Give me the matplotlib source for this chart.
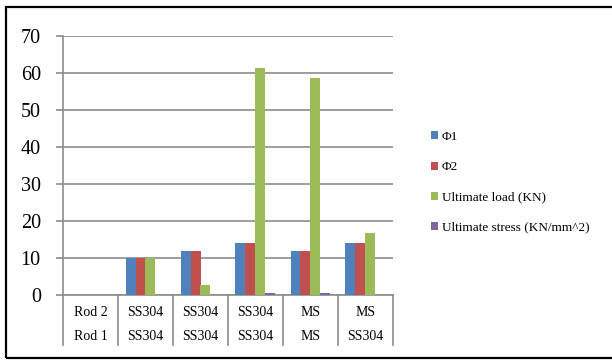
import matplotlib
matplotlib.use("Agg")
import matplotlib.pyplot as plt
from matplotlib.patches import Rectangle

plt.rcParams['font.family'] = ['Liberation Serif', 'DejaVu Serif']

rod2 = ["Rod 2", "SS304", "SS304", "SS304", "MS", "MS"]
rod1 = ["Rod 1", "SS304", "SS304", "SS304", "MS", "SS304"]

series = ["\u03a61", "\u03a62", "Ultimate load (KN)", "Ultimate stress (KN/mm^2)"]
phi1 = [0, 10, 12, 14, 12, 14]
phi2 = [0, 10, 12, 14, 12, 14]
ult_load = [0, 10, 2.6, 61.4, 58.5, 16.8]
ult_stress = [0, 0, 0, 0.45, 0.45, 0]
colors = ['#4F81BD', '#C0504D', '#9BBB59', '#8064A2']

W, H = 612, 361
fig = plt.figure(figsize=(W / 100, H / 100), dpi=100)
ax = fig.add_axes([63 / W, 66 / H, 330 / W, 259.3 / H])

width = 10 / 55
for k, vals in enumerate([phi1, phi2, ult_load, ult_stress]):
    xs = [i + (k - 1.5) * width for i in range(len(vals))]
    ax.bar(xs, vals, width, color=colors[k], label=series[k], zorder=3)

grid_c = '#8c8c8c'
ax.set_xlim(-0.5, len(rod1) - 0.5)
ax.set_ylim(0, 70)
ax.set_yticks(range(0, 71, 10))
ax.yaxis.grid(True, color=grid_c, lw=1.2, zorder=0)
ax.tick_params(axis='y', length=5, width=1.2, color=grid_c, pad=11, labelsize=14.5)
ax.set_xticks([])
for s in ['top', 'right']:
    ax.spines[s].set_visible(False)
for s in ['left', 'bottom']:
    ax.spines[s].set_color(grid_c)
    ax.spines[s].set_linewidth(1.2)

# two-row category table under the axis
tr = ax.get_xaxis_transform()
ax_h = 259.3
for i in range(len(rod1) + 1):
    ax.plot([i - 0.5, i - 0.5], [0, -50 / ax_h], transform=tr, color=grid_c,
            lw=1.2, clip_on=False)
for i in range(len(rod1)):
    ax.text(i, -17 / ax_h, rod2[i], transform=tr, ha='center', va='center', fontsize=10)
    ax.text(i, -42 / ax_h, rod1[i], transform=tr, ha='center', va='center', fontsize=10)

fig.legend(loc='upper left', bbox_to_anchor=(431 / W, 1 - 131 / H), frameon=False,
           fontsize=9.5, handlelength=0.55, handleheight=0.55, handletextpad=0.25,
           labelspacing=1.38, borderaxespad=0, borderpad=0)

fig.add_artist(Rectangle((6 / W, 3.5 / H), 1.0, 351 / H, transform=fig.transFigure,
                         fill=False, edgecolor='black', lw=1.6))

fig.savefig("out.png", dpi=100)
